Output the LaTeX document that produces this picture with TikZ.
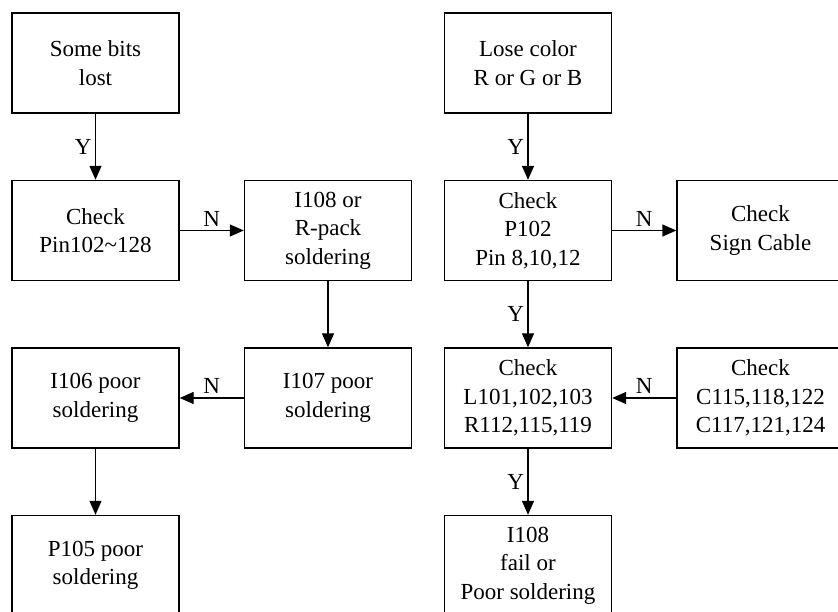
\documentclass[tikz,border=0pt]{standalone}
\usepackage{fontspec}
\setmainfont{Liberation Serif}
\usetikzlibrary{arrows.meta}

\begin{document}
\begin{tikzpicture}[x=1pt,y=-1pt,line width=1.4pt,
  >={Triangle[length=14pt,width=12pt]},
  font=\fontsize{23}{28.5}\selectfont,
  box/.style={draw,rectangle,align=center,minimum width=167pt,minimum height=100pt,inner sep=0pt}]
\useasboundingbox (0,0) rectangle (838,612);
% left chart
\node[box] (lost) at (95.5,63) {Some bits\\lost};
\node[box] (pin) at (95.5,230.5) {Check\\Pin102\textasciitilde128};
\node[box] (rpack) at (328,230.5) {I108 or\\R-pack\\soldering};
\node[box] (i107) at (328,398) {I107 poor\\soldering};
\node[box] (i106) at (95.5,398) {I106 poor\\soldering};
\node[box] (p105) at (95.5,565.5) {P105 poor\\soldering};
% right chart
\node[box] (color) at (528,63) {Lose color\\R or G or B};
\node[box] (p102) at (528,230.5) {Check\\P102\\Pin 8,10,12};
\node[box] (cable) at (760.5,230.5) {Check\\Sign Cable};
\node[box] (lcheck) at (528,398) {Check\\L101,102,103\\R112,115,119};
\node[box] (ccheck) at (760.5,398) {Check\\C115,118,122\\C117,121,124};
\node[box] (i108) at (528,565.5) {I108\\fail or\\Poor soldering};
\draw[->] (lost) -- node[left] {Y} (pin);
\draw[->] (pin) -- node[above] {N} (rpack);
\draw[->] (rpack) -- (i107);
\draw[->] (i107) -- node[above] {N} (i106);
\draw[->] (i106) -- (p105);
\draw[->] (color) -- node[left] {Y} (p102);
\draw[->] (p102) -- node[above] {N} (cable);
\draw[->] (p102) -- node[left] {Y} (lcheck);
\draw[->] (ccheck) -- node[above] {N} (lcheck);
\draw[->] (lcheck) -- node[left] {Y} (i108);
\end{tikzpicture}
\end{document}
